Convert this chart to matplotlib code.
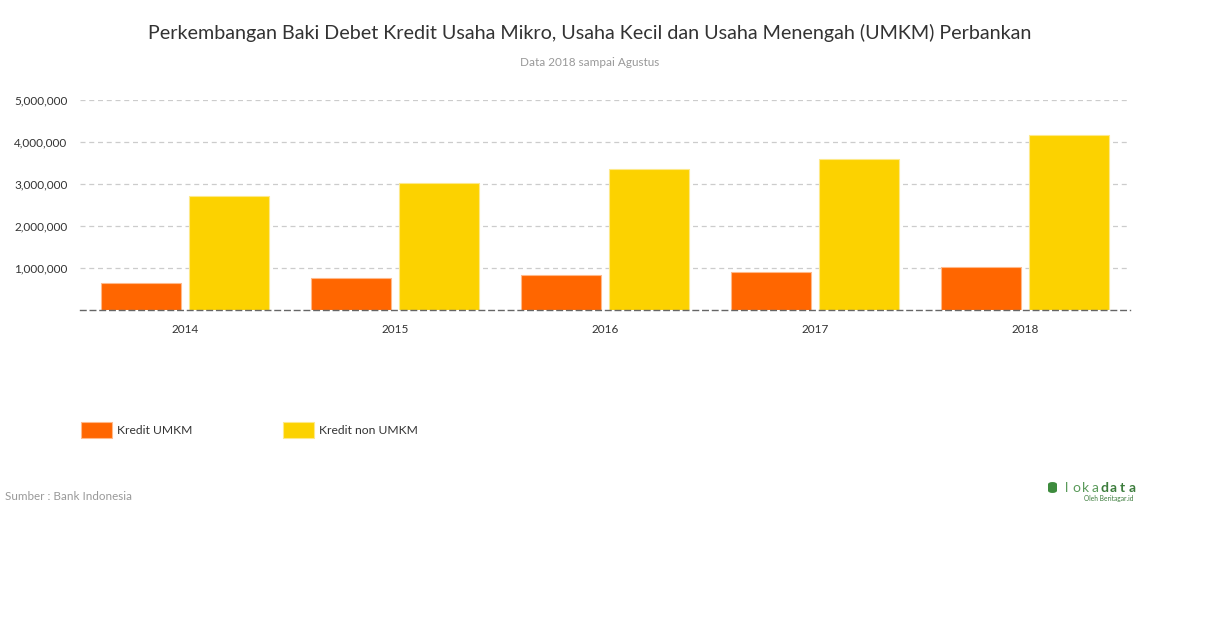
import matplotlib
matplotlib.use("Agg")
import matplotlib.pyplot as plt
from matplotlib.patches import Rectangle, FancyBboxPatch
from matplotlib.ticker import FuncFormatter
import numpy as np

plt.rcParams['font.family'] = ['Lato', 'DejaVu Sans']

years = ["2014", "2015", "2016", "2017", "2018"]
kredit_umkm = [635000, 755000, 825000, 897000, 1024000]
kredit_non_umkm = [2720000, 3016000, 3349000, 3587000, 4160000]
series_names = ["Kredit UMKM", "Kredit non UMKM"]
colors = ["#FF6600", "#FCD200"]
yticks = [1000000, 2000000, 3000000, 4000000, 5000000]

W, H = 1210, 628
fig = plt.figure(figsize=(W / 100, H / 100), dpi=100)
ax = fig.add_axes([80 / W, (H - 310) / H, 1050 / W, 210 / H])

x = np.arange(len(years))
bw = 0.381
ax.bar(x - 0.5 * bw - 0.017, kredit_umkm, width=bw, color=colors[0],
       edgecolor="#ffb98a", linewidth=0.8, zorder=3)
ax.bar(x + 0.5 * bw + 0.017, kredit_non_umkm, width=bw, color=colors[1],
       edgecolor="#fde98a", linewidth=0.8, zorder=3)

ax.set_xlim(-0.5, len(years) - 0.5)
ax.set_ylim(0, 5000000)
ax.set_yticks(yticks)
ax.yaxis.set_major_formatter(FuncFormatter(lambda v, p: f"{int(v):,}"))
ax.set_xticks(x)
ax.set_xticklabels(years)
ax.tick_params(axis="both", length=0, labelsize=8.5, colors="#333333")
ax.tick_params(axis="x", pad=10)
ax.tick_params(axis="y", pad=9)
ax.grid(axis="y", color="#cccccc", linestyle=(0, (4, 3)), linewidth=0.9, zorder=0)
for s in ["top", "right", "left"]:
    ax.spines[s].set_visible(False)
ax.spines["bottom"].set_color("#666666")
ax.spines["bottom"].set_linestyle((0, (4, 3)))
ax.spines["bottom"].set_linewidth(1.0)
ax.spines["bottom"].set_zorder(4)

fig.text(590 / W, 1 - 33 / H, "Perkembangan Baki Debet Kredit Usaha Mikro, Usaha Kecil dan Usaha Menengah (UMKM) Perbankan",
         ha="center", va="center", fontsize=14.2, color="#333333")
fig.text(590 / W, 1 - 62 / H, "Data 2018 sampai Agustus", ha="center", va="center",
         fontsize=8.5, color="#999999")

# legend
for i, (name, c, ec, lx) in enumerate(zip(series_names, colors, ["#ffb98a", "#fde98a"], [81, 283])):
    fig.patches.append(Rectangle((lx / W, 1 - 438 / H), 31 / W, 16 / H,
                                 transform=fig.transFigure, facecolor=c,
                                 edgecolor=ec, linewidth=0.8))
    fig.text((lx + 36) / W, 1 - 431 / H, name, ha="left", va="center",
             fontsize=8.7, color="#333333")

fig.text(5 / W, 1 - 497 / H, "Sumber : Bank Indonesia", ha="left", va="center",
         fontsize=8.4, color="#999999")

# logo
fig.patches.append(FancyBboxPatch((1048 / W, 1 - 493 / H), 9 / W, 11 / H,
                                  boxstyle="round,pad=0,rounding_size=0.004",
                                  transform=fig.transFigure, facecolor="#3d8b3d",
                                  edgecolor="none"))
logo = "lokadata"
for k, ch in enumerate(logo):
    fig.text((1067 + k * 9.3) / W, 1 - 488 / H, ch, ha="center", va="center",
             fontsize=10, color="#5a9a5a" if k < 4 else "#3d7d3d",
             fontweight="normal" if k < 4 else "bold")
fig.text(1134 / W, 1 - 498 / H, "Oleh Beritagar.id", ha="right", va="center",
         fontsize=4.8, color="#3d7d3d")

fig.savefig("out.png", dpi=100)
